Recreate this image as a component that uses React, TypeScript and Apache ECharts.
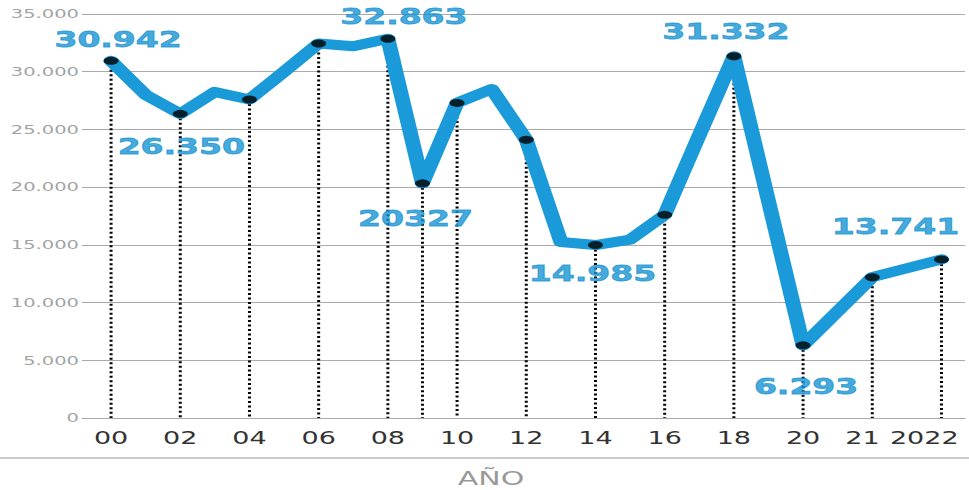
import React, { useEffect, useRef } from "react";
import * as echarts from "echarts";

// ---- data ----
const years = [2000, 2001, 2002, 2003, 2004, 2005, 2006, 2007, 2008, 2009, 2010, 2011, 2012, 2013, 2014, 2015, 2016, 2017, 2018, 2019, 2020, 2021, 2022];
const values = [30942, 28000, 26350, 28250, 27600, 30000, 32450, 32200, 32863, 20327, 27300, 28500, 24100, 15250, 14985, 15450, 17600, 24500, 31332, 18800, 6293, 12200, 13741];
const markedYears = [2000, 2002, 2004, 2006, 2008, 2009, 2010, 2012, 2014, 2016, 2018, 2020, 2021, 2022];
const labelYears = [2000, 2002, 2008, 2009, 2014, 2018, 2020, 2022];
const labelTexts = ["30.942", "26.350", "32.863", "20327", "14.985", "31.332", "6.293", "13.741"];
const tickYears = [2000, 2002, 2004, 2006, 2008, 2010, 2012, 2014, 2016, 2018, 2020, 2021, 2022];
const tickLabels = ["00", "02", "04", "06", "08", "10", "12", "14", "16", "18", "20", "21", "2022"];

// ---- layout / style ----
const SX = 1.5; // horizontal stretch of the whole picture
const W = 969;
const H = 490;
const BLUE = "#1a9ad8";
const LABEL_BLUE = "#1593d2";
// label offsets (display px) relative to the marker centre
const labelOffsets: Record<number, [number, number]> = {
  2000: [7, -21],
  2002: [1, 33],
  2008: [16, -22],
  2009: [-7, 35],
  2014: [-3, 29],
  2018: [-8, -25],
  2020: [3, 41],
  2022: [-46, -33],
};

// years up to 2020 are drawn at half spacing, later years at full spacing
const xPos = (y: number) => (y <= 2020 ? y - 2000 : 20 + 2 * (y - 2020));
const fmtThousands = (v: number) => String(v).replace(/\B(?=(\d{3})+(?!\d))/g, ".");

export default function App() {
  const ref = useRef<HTMLDivElement>(null);
  useEffect(() => {
    if (!ref.current) return;
    const chart = echarts.init(ref.current, undefined, { renderer: "svg" });
    const valueOf = (y: number) => values[years.indexOf(y)];
    const lineData = years.map((y, i) => [xPos(y), values[i]]);
    const markerData = markedYears.map((y) => {
      const li = labelYears.indexOf(y);
      const item: any = { value: [xPos(y), valueOf(y)] };
      if (li >= 0) {
        const off = labelOffsets[y] || [0, 0];
        item.label = {
          show: true,
          position: "inside",
          formatter: labelTexts[li],
          offset: [off[0] / SX, off[1]],
        };
      }
      return item;
    });
    const tickMap: Record<number, string> = {};
    tickYears.forEach((y, i) => (tickMap[xPos(y)] = tickLabels[i]));
    const plotW = W / SX;

    chart.setOption({
      animation: false,
      grid: { left: 82 / SX, right: 4 / SX, top: 14, bottom: 72, containLabel: false },
      xAxis: {
        type: "value",
        min: -0.84,
        max: 24.68,
        splitLine: { show: false },
        axisTick: { show: false },
        axisLine: { show: true, lineStyle: { color: "#aaaaaa", width: 1 } },
        axisLabel: {
          customValues: tickYears.map(xPos),
          margin: 11,
          color: "#333333",
          fontFamily: "DejaVu Sans",
          fontSize: 18,
          formatter: (v: number) => {
            const t = tickMap[v] ?? "";
            if (t === "21") return "{a|21}";
            if (t === "2022") return "{b|2022}";
            return t;
          },
          rich: {
            a: { color: "#333333", fontFamily: "DejaVu Sans", fontSize: 18, padding: [0, 13, 0, 0] },
            b: { color: "#333333", fontFamily: "DejaVu Sans", fontSize: 18, padding: [0, 23, 0, 0] },
          },
        },
      },
      yAxis: {
        type: "value",
        min: 0,
        max: 35000,
        interval: 5000,
        axisLine: { show: false },
        axisTick: { show: false },
        splitLine: { show: true, lineStyle: { color: "#aaaaaa", width: 1 } },
        axisLabel: {
          margin: 2,
          color: "#a3a3a3",
          fontFamily: "DejaVu Sans",
          fontSize: 13,
          formatter: (v: number) => fmtThousands(v),
        },
      },
      series: [
        {
          type: "custom",
          z: 1,
          clip: false,
          data: markedYears.map((y) => [xPos(y), valueOf(y)]),
          renderItem: (_p: any, api: any) => {
            const p = api.coord([api.value(0), api.value(1)]);
            const b = api.coord([api.value(0), 0]);
            return {
              type: "line",
              shape: { x1: p[0], y1: p[1], x2: b[0], y2: b[1] },
              style: { stroke: "#000000", lineWidth: 2, lineDash: [2, 2.5] },
            };
          },
        },
        {
          type: "line",
          z: 2,
          data: lineData,
          showSymbol: false,
          symbol: "none",
          lineStyle: { color: BLUE, width: 10, cap: "round", join: "round" },
        },
        {
          type: "scatter",
          z: 3,
          data: markerData,
          symbol: "circle",
          symbolSize: [10, 8],
          itemStyle: { color: "#000000" },
          label: {
            show: false,
            color: LABEL_BLUE,
            fontFamily: "DejaVu Sans",
            fontWeight: "bold",
            fontSize: 22,
            textBorderColor: LABEL_BLUE,
            textBorderWidth: 0.8,
          },
        },
      ],
      graphic: [
        {
          type: "line",
          shape: { x1: 0, y1: 458, x2: plotW, y2: 458 },
          style: { stroke: "#cccccc", lineWidth: 2 },
        },
        {
          type: "text",
          x: 491 / SX,
          y: 478,
          style: {
            text: "AÑO",
            fill: "#999999",
            font: "20px 'DejaVu Sans'",
            textAlign: "center",
            textVerticalAlign: "middle",
          },
        },
      ],
    });
    return () => chart.dispose();
  }, []);

  return (
    <div style={{ position: "fixed", left: 0, top: 0, width: W, height: H, overflow: "hidden", background: "#fff" }}>
      <div
        ref={ref}
        style={{ width: W / SX, height: H, transform: `scaleX(${SX})`, transformOrigin: "0 0" }}
      />
    </div>
  );
}
